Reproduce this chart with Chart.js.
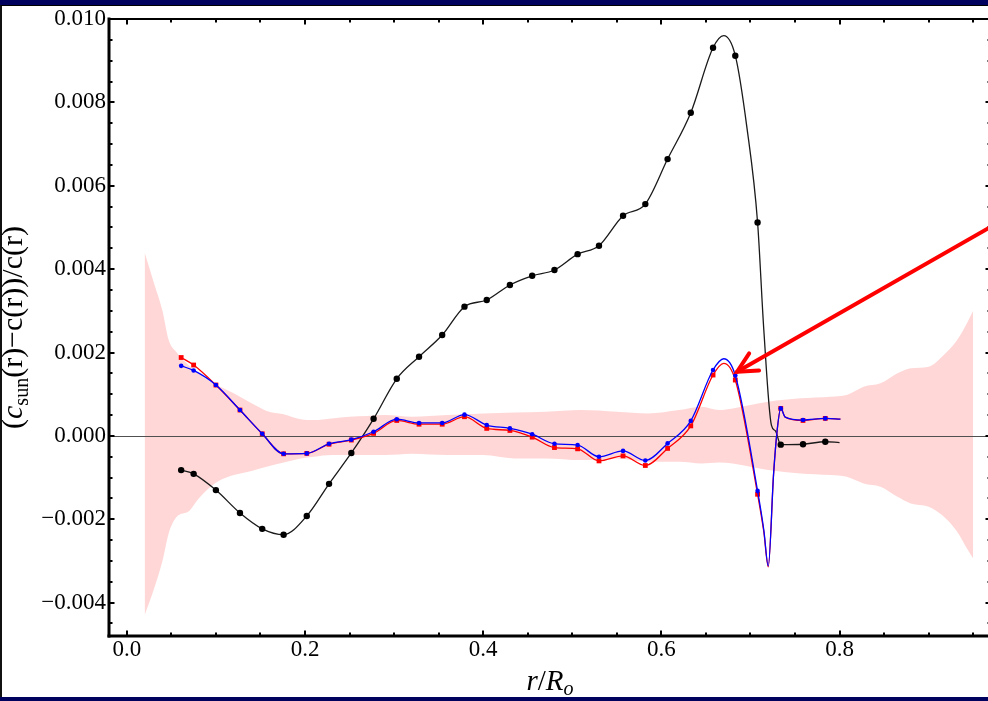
<!DOCTYPE html>
<html>
<head>
<meta charset="utf-8">
<script src="https://cdn.jsdelivr.net/npm/chart.js@4.4.1/dist/chart.umd.min.js"></script>
<style>
  html, body { margin: 0; padding: 0; width: 988px; height: 701px; overflow: hidden; background: #00005e; }
  #sheet { position: absolute; left: 0; top: 5px; width: 988px; height: 692px; background: #fff;
           border-top: 1px solid #000; border-left: 2px solid #111; box-sizing: border-box; }
  #wrap { position: absolute; left: 0; top: 0; width: 1001px; height: 701px; }
</style>
</head>
<body>
<div id="sheet"></div>
<div id="wrap"><canvas id="c" width="1001" height="701" style="width:1001px;height:701px"></canvas></div>
<script>
// radial grid of the sampled points (r / R_o)
const rMarks = [0.061, 0.075, 0.100, 0.127, 0.152, 0.176, 0.202, 0.227, 0.252, 0.277,
                0.303, 0.328, 0.354, 0.379, 0.404, 0.430, 0.455, 0.480, 0.506, 0.530,
                0.557, 0.582, 0.607, 0.633, 0.658, 0.683, 0.708, 0.734, 0.759, 0.784];

// relative sound-speed difference for the three models
const blackMarks = [-0.00082, -0.00091, -0.00130, -0.00185, -0.00223, -0.00237, -0.00192, -0.00115, -0.00041, 0.00041,
                    0.00137, 0.00190, 0.00242, 0.00310, 0.00326, 0.00362, 0.00384, 0.00398, 0.00436, 0.00456,
                    0.00528, 0.00556, 0.00664, 0.00775, 0.00931, 0.00912, 0.00512, -0.00021, -0.00020, -0.00014];
const redMarks = [0.00188, 0.00170, 0.00122, 0.00062, 0.00005, -0.00043, -0.00042, -0.00020, -0.00010, 0.00006,
                  0.00037, 0.00028, 0.00028, 0.00046, 0.00018, 0.00013, -0.00003, -0.00028, -0.00031, -0.00060,
                  -0.00048, -0.00071, -0.00030, 0.00024, 0.00146, 0.00134, -0.00140, 0.00066, 0.00037, 0.00042];
const blueMarks = [0.00168, 0.00157, 0.00122, 0.00062, 0.00005, -0.00043, -0.00042, -0.00019, -0.00009, 0.00010,
                   0.00040, 0.00031, 0.00031, 0.00051, 0.00026, 0.00018, 0.00004, -0.00019, -0.00022, -0.00050,
                   -0.00036, -0.00059, -0.00018, 0.00036, 0.00158, 0.00145, -0.00132, 0.00066, 0.00038, 0.00042];

// extra curve samples between the markers (finer model output)
const blackKnotR = [0.670, 0.696, 0.715, 0.7235, 0.728, 0.800];
const blackKnotV = [0.00960, 0.00740, 0.00254, 0.00026, 0.00012, -0.00016];
const redKnotR = [0.670, 0.715, 0.720, 0.726, 0.730, 0.739, 0.801];
const redKnotV = [0.00174, -0.00230, -0.00314, -0.00090, 0.00014, 0.00045, 0.00040];
const blueKnotR = [0.670, 0.715, 0.720, 0.726, 0.730, 0.739, 0.801];
const blueKnotV = [0.00185, -0.00226, -0.00312, -0.00090, 0.00014, 0.00045, 0.00040];

// helioseismic uncertainty band
const bandR = [0.020, 0.030, 0.040, 0.047, 0.056, 0.070, 0.080, 0.094, 0.105, 0.120,
               0.140, 0.157, 0.176, 0.195, 0.210, 0.230, 0.250, 0.270, 0.290, 0.320,
               0.360, 0.400, 0.435, 0.470, 0.510, 0.550, 0.585, 0.620, 0.645, 0.665,
               0.680, 0.720, 0.756, 0.790, 0.808, 0.827, 0.846, 0.865, 0.880, 0.900,
               0.915, 0.932, 0.943, 0.950];
const bandUpper = [0.00440, 0.00370, 0.00300, 0.00230, 0.00200, 0.00168, 0.00150, 0.00130, 0.00118, 0.00102,
                   0.00078, 0.00060, 0.00052, 0.00040, 0.00038, 0.00042, 0.00046, 0.00048, 0.00050, 0.00046,
                   0.00050, 0.00054, 0.00056, 0.00058, 0.00062, 0.00058, 0.00054, 0.00062, 0.00070, 0.00062,
                   0.00066, 0.00082, 0.00090, 0.00094, 0.00098, 0.00118, 0.00126, 0.00150, 0.00162, 0.00166,
                   0.00190, 0.00230, 0.00270, 0.00300];
const bandLower = [-0.00430, -0.00370, -0.00300, -0.00234, -0.00194, -0.00180, -0.00152, -0.00122, -0.00106, -0.00094,
                   -0.00084, -0.00074, -0.00064, -0.00054, -0.00050, -0.00046, -0.00046, -0.00046, -0.00046, -0.00043,
                   -0.00046, -0.00046, -0.00054, -0.00054, -0.00058, -0.00054, -0.00062, -0.00062, -0.00066, -0.00064,
                   -0.00066, -0.00082, -0.00090, -0.00094, -0.00098, -0.00114, -0.00122, -0.00146, -0.00162, -0.00170,
                   -0.00190, -0.00230, -0.00270, -0.00294];

// axis ticks
const xTickValues = [0, 0.2, 0.4, 0.6, 0.8];
const xTickLabels = ['0.0', '0.2', '0.4', '0.6', '0.8'];
const yTickValues = [-0.004, -0.002, 0, 0.002, 0.004, 0.006, 0.008, 0.010];
const yTickLabels = ['\u22120.004', '\u22120.002', '0.000', '0.002', '0.004', '0.006', '0.008', '0.010'];

// annotation arrow (tip, tail) in data units
const arrowTip = [0.685, 0.00154];
const arrowTail = [0.985, 0.00520];

const SERIF = '"Liberation Serif", "Times New Roman", serif';
Chart.defaults.font.family = SERIF;
Chart.defaults.font.size = 23;
Chart.defaults.color = '#000';

function pairs(xs, ys) { return xs.map((x, i) => ({ x: x, y: ys[i] })); }
function curve(xs, ys, kx, ky) {
  return pairs(xs, ys).concat(pairs(kx, ky)).sort((a, b) => a.x - b.x);
}

function drawRich(ctx, runs, cx, baseline) {
  let total = 0;
  runs.forEach(r => { ctx.font = r.font; r.w = ctx.measureText(r.t).width; total += r.w; });
  let x = cx - total / 2;
  runs.forEach(r => { ctx.font = r.font; ctx.fillText(r.t, x, baseline + (r.dy || 0)); x += r.w; });
}

const framePlugin = {
  id: 'frame',
  afterDatasetDraw(chart, args) {
    // zero axis, drawn just above the uncertainty band
    if (args.index !== 0) return;
    const { ctx, chartArea: a, scales: { y } } = chart;
    const y0 = Math.round(y.getPixelForValue(0)) + 0.5;
    ctx.save();
    ctx.strokeStyle = '#505050';
    ctx.lineWidth = 1;
    ctx.beginPath(); ctx.moveTo(a.left, y0); ctx.lineTo(a.right, y0); ctx.stroke();
    ctx.restore();
  },
  afterDraw(chart) {
    const { ctx, chartArea: a, scales: { x, y } } = chart;
    ctx.save();
    ctx.strokeStyle = '#000';
    ctx.lineCap = 'butt';

    // frame
    ctx.lineWidth = 2;
    ctx.beginPath(); ctx.moveTo(a.left, a.top); ctx.lineTo(a.right + 1, a.top); ctx.stroke();
    ctx.beginPath(); ctx.moveTo(a.right, a.top); ctx.lineTo(a.right, a.bottom); ctx.stroke();
    ctx.lineWidth = 3;
    ctx.beginPath(); ctx.moveTo(a.left, a.top - 1.5); ctx.lineTo(a.left, a.bottom + 1.5); ctx.stroke();
    ctx.beginPath(); ctx.moveTo(a.left - 1.5, a.bottom); ctx.lineTo(a.right + 1, a.bottom); ctx.stroke();

    // inward ticks
    ctx.lineWidth = 2;
    const majorLen = 5.5, minorLen = 3.5;
    for (let k = 0; k <= 19; k++) {
      const v = k * 0.05;
      const px = Math.round(x.getPixelForValue(v));
      const len = (k % 4 === 0) ? majorLen : minorLen;
      ctx.beginPath(); ctx.moveTo(px, a.bottom); ctx.lineTo(px, a.bottom - len); ctx.stroke();
      ctx.beginPath(); ctx.moveTo(px, a.top); ctx.lineTo(px, a.top + len); ctx.stroke();
    }
    for (let k = -9; k <= 19; k++) {
      const v = k * 0.0005;
      const py = Math.round(y.getPixelForValue(v));
      if (py < a.top + 1 || py > a.bottom - 1) continue;
      const len = (k % 4 === 0) ? majorLen : minorLen;
      ctx.beginPath(); ctx.moveTo(a.left, py); ctx.lineTo(a.left + len, py); ctx.stroke();
      ctx.beginPath(); ctx.moveTo(a.right, py); ctx.lineTo(a.right - len, py); ctx.stroke();
    }

    // red arrow
    const tx = x.getPixelForValue(arrowTip[0]), ty = y.getPixelForValue(arrowTip[1]);
    const ex = x.getPixelForValue(arrowTail[0]), ey = y.getPixelForValue(arrowTail[1]);
    const ang = Math.atan2(ey - ty, ex - tx);
    ctx.strokeStyle = '#ff0000';
    ctx.lineWidth = 4;
    ctx.lineCap = 'round';
    ctx.beginPath(); ctx.moveTo(tx, ty); ctx.lineTo(ex, ey); ctx.stroke();
    const headLen = 22, spread = 0.47;
    ctx.beginPath();
    ctx.moveTo(tx + headLen * Math.cos(ang - spread), ty + headLen * Math.sin(ang - spread));
    ctx.lineTo(tx, ty);
    ctx.lineTo(tx + headLen * Math.cos(ang + spread), ty + headLen * Math.sin(ang + spread));
    ctx.stroke();

    // axis titles
    ctx.fillStyle = '#000';
    ctx.textAlign = 'left';
    ctx.textBaseline = 'alphabetic';
    drawRich(ctx, [
      { t: 'r', font: 'italic 29px ' + SERIF },
      { t: '/', font: '29px ' + SERIF },
      { t: 'R', font: 'italic 29px ' + SERIF },
      { t: 'o', font: 'italic 20px ' + SERIF, dy: 5 }
    ], (a.left + a.right) / 2, 690);

    ctx.save();
    ctx.translate(0, (a.top + a.bottom) / 2);
    ctx.rotate(-Math.PI / 2);
    drawRich(ctx, [
      { t: '(', font: '30px ' + SERIF },
      { t: 'c', font: 'italic 30px ' + SERIF },
      { t: 'sun', font: '20px ' + SERIF, dy: 6 },
      { t: '(r)\u2212c(r))/c(r)', font: '30px ' + SERIF }
    ], 0, 22);
    ctx.restore();

    ctx.restore();
  }
};

const lineBase = { pointRadius: 0, cubicInterpolationMode: 'monotone', fill: false };
const tickFont = { family: SERIF, size: 23, style: 'normal', weight: 'normal' };

new Chart(document.getElementById('c'), {
  type: 'line',
  data: {
    datasets: [
      { ...lineBase, label: 'band upper', data: pairs(bandR, bandUpper), fill: '+1',
        backgroundColor: '#ffd7d7', borderColor: 'rgba(0,0,0,0)', borderWidth: 1, order: 10 },
      { ...lineBase, label: 'band lower', data: pairs(bandR, bandLower),
        borderColor: 'rgba(0,0,0,0)', borderWidth: 1, order: 11 },
      { ...lineBase, label: 'model A curve', data: curve(rMarks, blackMarks, blackKnotR, blackKnotV),
        borderColor: '#1a1a1a', borderWidth: 1.3, order: 8 },
      { label: 'model A', data: pairs(rMarks, blackMarks), showLine: false, pointStyle: 'circle',
        pointRadius: 3.2, pointBackgroundColor: '#000', pointBorderColor: '#000', pointBorderWidth: 0, order: 7 },
      { ...lineBase, label: 'model B curve', data: curve(rMarks, redMarks, redKnotR, redKnotV),
        borderColor: '#ff0000', borderWidth: 1.3, order: 6 },
      { label: 'model B', data: pairs(rMarks, redMarks), showLine: false, pointStyle: 'rect',
        pointRadius: 3.4, pointBackgroundColor: '#ff0000', pointBorderColor: '#ff0000', pointBorderWidth: 0, order: 5 },
      { ...lineBase, label: 'model C curve', data: curve(rMarks, blueMarks, blueKnotR, blueKnotV),
        borderColor: '#0000ff', borderWidth: 1.3, order: 4 },
      { label: 'model C', data: pairs(rMarks, blueMarks), showLine: false, pointStyle: 'circle',
        pointRadius: 2.3, pointBackgroundColor: '#0000ff', pointBorderColor: '#0000ff', pointBorderWidth: 0, order: 3 }
    ]
  },
  options: {
    responsive: false,
    animation: false,
    events: [],
    layout: { padding: { top: 19, right: 10, left: 0, bottom: 0 } },
    plugins: { legend: { display: false }, tooltip: { enabled: false } },
    scales: {
      x: {
        type: 'linear', min: -0.02, max: 0.97,
        grid: { display: false, drawTicks: false },
        border: { display: false },
        ticks: { color: '#000', padding: 0, maxRotation: 0, autoSkip: false,
                 font: tickFont, callback: (v, i) => xTickLabels[i] },
        afterBuildTicks: s => { s.ticks = xTickValues.map(v => ({ value: v })); },
        afterFit: s => { s.height = 65; }
      },
      y: {
        type: 'linear', min: -0.0048, max: 0.010,
        grid: { display: false, drawTicks: false },
        border: { display: false },
        ticks: { color: '#000', padding: 3, autoSkip: false,
                 font: tickFont, callback: (v, i) => yTickLabels[i] },
        afterBuildTicks: s => { s.ticks = yTickValues.map(v => ({ value: v })); },
        afterFit: s => { s.width = 109; }
      }
    }
  },
  plugins: [framePlugin]
});
</script>
</body>
</html>
